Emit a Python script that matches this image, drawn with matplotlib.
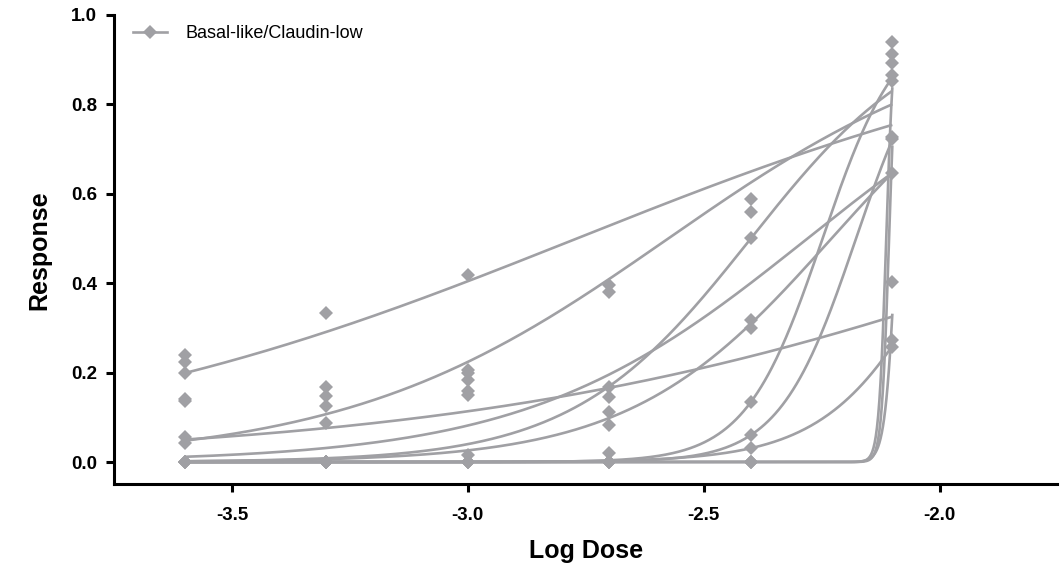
import matplotlib.pyplot as plt
import numpy as np
from matplotlib.lines import Line2D

plt.rcParams['font.family'] = ['Liberation Sans', 'DejaVu Sans']

# Messpunkte je Dosis (log)
doses = [-3.6, -3.3, -3.0, -2.7, -2.4, -2.1]
resp_m36 = [0.239, 0.224, 0.199, 0.141, 0.136, 0.056, 0.043, 0.0, 0.0, 0.0, 0.0]
resp_m33 = [0.333, 0.168, 0.148, 0.125, 0.087, 0.0, 0.0, 0.0, 0.0, 0.0, 0.0]
resp_m30 = [0.418, 0.206, 0.200, 0.183, 0.158, 0.150, 0.016, 0.0, 0.0, 0.0, 0.0]
resp_m27 = [0.396, 0.380, 0.168, 0.145, 0.112, 0.083, 0.020, 0.0, 0.0, 0.0, 0.0]
resp_m24 = [0.588, 0.559, 0.501, 0.318, 0.300, 0.134, 0.060, 0.031, 0.0, 0.0, 0.0]
resp_m21 = [0.940, 0.913, 0.893, 0.866, 0.852, 0.727, 0.722, 0.647, 0.403, 0.273, 0.257]
responses = [resp_m36, resp_m33, resp_m30, resp_m27, resp_m24, resp_m21]

# Kurvenparameter (4PL: bottom, top, logEC50, Hill)
fit_bottom = [0, 0, 0, 0, 0, 0, 0, 0, 0, 0, 0, 0]
fit_top = [1, 1, 1, 1, 1, 1, 1, 1, 1, 1, 1, 1]
fit_logec50 = [-2.769, -2.575, -1.605, -2.40, -2.28, -2.229, -2.248, -2.177, -1.969, -2.113, -2.107, -2.092]
fit_hill = [0.728, 1.27, 0.64, 2.3, 1.46, 2.04, 5.33, 5.35, 3.47, 55, 55, 38]

grey = '#a0a0a4'

fig = plt.figure(figsize=(10.63, 5.66), dpi=100)
ax = fig.add_axes([0.1072, 0.1442, 0.8876, 0.8293])

xs = np.linspace(doses[0], doses[-1], 600)
for b, t, c, h in zip(fit_bottom, fit_top, fit_logec50, fit_hill):
    ys = b + (t - b) / (1 + 10 ** ((c - xs) * h))
    ax.plot(xs, ys, color=grey, lw=1.9, solid_capstyle='butt', zorder=2)

for d, r in zip(doses, responses):
    ax.plot([d] * len(r), r, ls='none', marker='D', ms=7.5, color=grey,
            markeredgewidth=0, zorder=3)

ax.set_xlim(-3.75, -1.75)
ax.set_ylim(-0.05, 1.0)
ax.set_xticks([-3.5, -3.0, -2.5, -2.0])
ax.set_xticklabels(['-3.5', '-3.0', '-2.5', '-2.0'])
ax.set_yticks([0.0, 0.2, 0.4, 0.6, 0.8, 1.0])
ax.set_yticklabels(['0.0', '0.2', '0.4', '0.6', '0.8', '1.0'])

for s in ['top', 'right']:
    ax.spines[s].set_visible(False)
for s in ['left', 'bottom']:
    ax.spines[s].set_linewidth(2.2)
    ax.spines[s].set_color('black')
ax.tick_params(axis='both', width=2.2, length=6, labelsize=13.5)
ax.tick_params(axis='x', pad=10)
ax.tick_params(axis='y', pad=6)
for lab in ax.get_xticklabels() + ax.get_yticklabels():
    lab.set_fontweight('bold')

ax.set_xlabel('Log Dose', fontsize=18, fontweight='bold', labelpad=11)
ax.set_ylabel('Response', fontsize=18, fontweight='bold', labelpad=14)

handle = Line2D([0], [0], color=grey, lw=1.9, marker='D', ms=7, markeredgewidth=0)
fig.legend(handles=[handle], labels=['Basal-like/Claudin-low'], loc='upper left',
           bbox_to_anchor=(0.125, 0.955), frameon=False, fontsize=13,
           handlelength=1.9, handletextpad=1.0, borderpad=0, borderaxespad=0)

fig.savefig('out.png', dpi=100)
